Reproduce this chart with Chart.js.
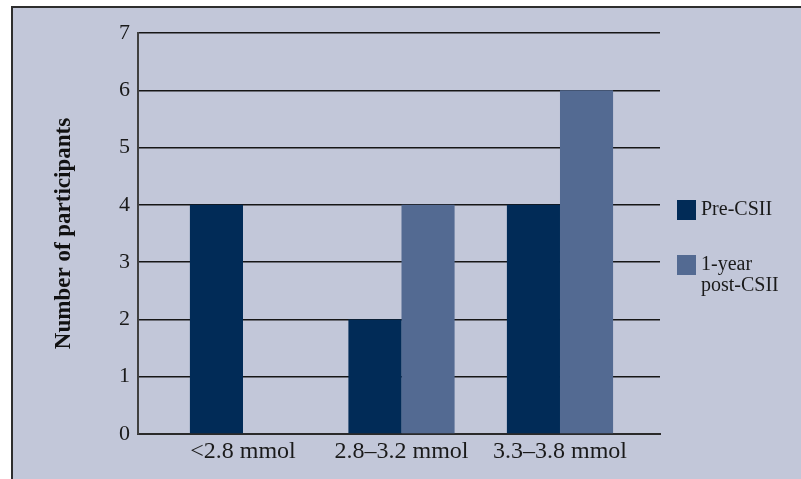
<!DOCTYPE html>
<html>
<head>
<meta charset="utf-8">
<style>
  html, body { margin: 0; padding: 0; background: #ffffff; }
  #wrap { position: relative; width: 801px; height: 479px; }
</style>
<script src="https://cdn.jsdelivr.net/npm/chart.js@4.4.1/dist/chart.umd.min.js"></script>
</head>
<body>
<div id="wrap"><canvas id="chart" width="801" height="479"></canvas></div>
<script>
// Hypoglycaemia thresholds and participant counts
const categories = ['<2.8 mmol', '2.8–3.2 mmol', '3.3–3.8 mmol'];
const preCSII = [4, 2, 4];
const postCSII = [null, 4, 6];
const seriesNames = ['Pre-CSII', '1-year post-CSII'];
const legendLines = [['Pre-CSII'], ['1-year', 'post-CSII']];
const yTicks = [0, 1, 2, 3, 4, 5, 6, 7];

const COLORS = ['#012b57', '#536a92'];
const SERIF = '"Liberation Serif", "DejaVu Serif", serif';

const toPoints = (vals) => vals.map((v, i) => ({ x: i + 1, y: v }));

// Framed panel behind the plot
const panelPlugin = {
  id: 'panel',
  beforeDraw(chart) {
    const ctx = chart.ctx;
    ctx.save();
    ctx.fillStyle = '#c2c7d9';
    ctx.fillRect(12, 6, chart.width - 12, chart.height - 6);
    ctx.strokeStyle = '#2e2e2e';
    ctx.lineWidth = 2;
    ctx.beginPath();
    ctx.moveTo(12, chart.height);
    ctx.lineTo(12, 7);
    ctx.lineTo(chart.width, 7);
    ctx.stroke();
    ctx.restore();
  }
};

// Legend at the right, with wrapped labels
const sideLegendPlugin = {
  id: 'sideLegend',
  afterDraw(chart) {
    const ctx = chart.ctx;
    const boxX = 677, textX = 701, boxSize = 20;
    const tops = [200, 255];
    ctx.save();
    ctx.font = '20px ' + SERIF;
    ctx.textBaseline = 'alphabetic';
    ctx.textAlign = 'left';
    chart.data.datasets.forEach((ds, i) => {
      ctx.fillStyle = ds.backgroundColor;
      ctx.fillRect(boxX, tops[i], boxSize - 1, boxSize);
      ctx.fillStyle = '#1a1a1a';
      legendLines[i].forEach((line, j) => {
        ctx.fillText(line, textX, tops[i] + 15 + j * 21);
      });
    });
    ctx.restore();
  }
};

new Chart(document.getElementById('chart'), {
  type: 'bar',
  data: {
    datasets: [
      { label: seriesNames[0], data: toPoints(preCSII), backgroundColor: COLORS[0] },
      { label: seriesNames[1], data: toPoints(postCSII), backgroundColor: COLORS[1] }
    ]
  },
  options: {
    responsive: false,
    animation: false,
    events: [],
    layout: { padding: { left: 0, right: 141, top: 33, bottom: 0 } },
    datasets: {
      bar: { categoryPercentage: 0.67, barPercentage: 1.0, borderWidth: 0 }
    },
    plugins: {
      legend: { display: false },
      tooltip: { enabled: false }
    },
    scales: {
      x: {
        type: 'linear',
        offset: false,
        min: 0.3375,
        max: 3.631,
        afterBuildTicks(scale) {
          scale.ticks = categories.map((c, i) => ({ value: i + 1 }));
        },
        afterFit(scale) { scale.height = 45; },
        grid: { display: false, drawTicks: false },
        border: { display: true, color: '#2a2a2a', width: 2 },
        ticks: {
          color: '#1a1a1a',
          font: { family: SERIF, size: 24 },
          padding: 3,
          maxRotation: 0,
          autoSkip: false,
          callback: (v) => categories[v - 1] ?? ''
        }
      },
      y: {
        min: 0,
        max: 7,
        afterBuildTicks(scale) {
          scale.ticks = yTicks.map(v => ({ value: v }));
        },
        afterFit(scale) { scale.width = 138; },
        grid: { color: '#161616', lineWidth: 1.5, drawTicks: false },
        border: { display: true, color: '#404040', width: 2 },
        ticks: {
          color: '#1a1a1a',
          font: { family: SERIF, size: 22 },
          padding: 8
        },
        title: {
          display: true,
          text: 'Number of participants',
          color: '#111111',
          font: { family: SERIF, size: 23, weight: 'bold' },
          padding: { top: 50, bottom: 0 },
          align: 'center'
        }
      }
    }
  },
  plugins: [panelPlugin, sideLegendPlugin]
});
</script>
</body>
</html>
